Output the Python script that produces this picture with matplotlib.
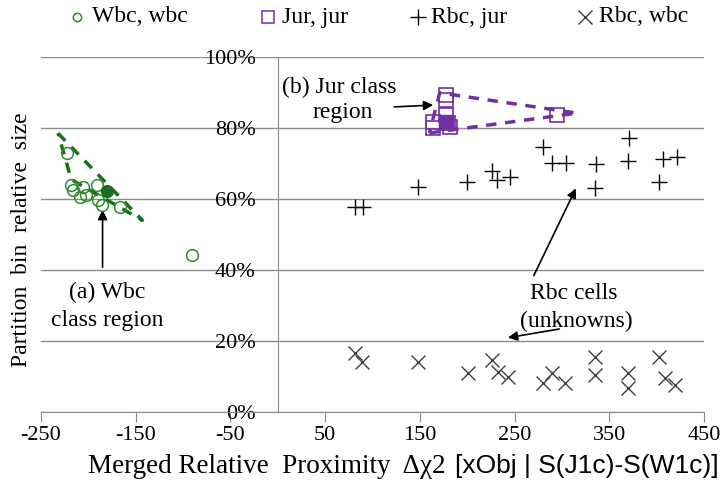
import matplotlib
matplotlib.use('Agg')
import matplotlib.pyplot as plt
from matplotlib.lines import Line2D

plt.rcParams['font.family'] = ['Liberation Serif', 'DejaVu Serif']
plt.rcParams['axes.unicode_minus'] = False

# Wbc, wbc (green circles)
wbc_x = [-223, -218, -216, -206, -202, -191, -190, -186, -209, -167, -91]
wbc_y = [0.729, 0.639, 0.625, 0.634, 0.611, 0.639, 0.597, 0.583, 0.606, 0.577, 0.442]
wbc_fill = (-180, 0.623)

# Jur, jur (purple squares)
jur_x = [178, 178, 164, 178, 180, 182, 164, 295]
jur_y = [0.893, 0.879, 0.817, 0.837, 0.814, 0.803, 0.800, 0.837]
jur_fill = (178, 0.817)

# Rbc, jur (plus)
rj_x = [371, 280, 290, 304, 336, 370, 407, 421, 403, 335, 226, 231, 245, 200, 148, 90, 81]
rj_y = [0.772, 0.746, 0.701, 0.701, 0.699, 0.707, 0.713, 0.718, 0.648, 0.631,
        0.679, 0.654, 0.662, 0.648, 0.634, 0.577, 0.577]

# Rbc, wbc (x)
rw_x = [81, 89, 148, 201, 226, 232, 243, 280, 290, 303, 335, 335, 370, 370, 403, 409, 419]
rw_y = [0.166, 0.141, 0.141, 0.110, 0.146, 0.113, 0.099, 0.082, 0.110, 0.082,
        0.155, 0.104, 0.110, 0.068, 0.155, 0.096, 0.076]

# class region outlines
wbc_reg_x = [-232, -143, -218, -232]
wbc_reg_y = [0.785, 0.54, 0.655, 0.785]
jur_reg_x = [160, 316, 171, 160]
jur_reg_y = [0.786, 0.842, 0.899, 0.786]

x_ticks = [-250, -150, -50, 50, 150, 250, 350, 450]
y_ticks = [0, 0.2, 0.4, 0.6, 0.8, 1.0]
y_labels = ['0%', '20%', '40%', '60%', '80%', '100%']

green = '#2e8b2e'
dgreen = '#1b6e1b'
purple = '#7030a0'
grey = '#8c8c8c'
fs = 17

fig = plt.figure(figsize=(7.25, 4.94), dpi=100)
ax = fig.add_axes([41 / 725, 82 / 494, 663 / 725, 355 / 494])

ax.plot(wbc_reg_x, wbc_reg_y, color=dgreen, lw=2.5, ls=(0, (3, 2.5)), zorder=3)
ax.plot(jur_reg_x, jur_reg_y, color=purple, lw=2.5, ls=(0, (3, 2.5)), zorder=3)

ax.plot(wbc_x, wbc_y, 'o', ms=8.5, mfc='none', mec=green, mew=1.1, zorder=4)
ax.plot(*wbc_fill, 'o', ms=8.5, mfc=dgreen, mec=dgreen, zorder=4)
ax.plot(jur_x, jur_y, 's', ms=9.5, mfc='none', mec=purple, mew=1.2, zorder=4)
ax.plot(*jur_fill, 's', ms=9.5, mfc=purple, mec=purple, zorder=4)
ax.plot(rj_x, rj_y, '+', ms=11, color='black', mew=1.0, zorder=4)
ax.plot(rw_x, rw_y, 'x', ms=10.5, color='#404040', mew=1.0, zorder=4)

ax.set_xlim(-250, 450)
ax.set_ylim(0, 1.0)
ax.set_xticks(x_ticks)
ax.set_yticks(y_ticks)
ax.set_yticklabels(y_labels)
ax.yaxis.grid(True, color=grey, lw=1)
ax.set_axisbelow(True)
for s in ['top', 'right']:
    ax.spines[s].set_visible(False)
ax.spines['left'].set_position(('data', 0))
ax.spines['left'].set_color(grey)
ax.spines['bottom'].set_color(grey)
ax.tick_params(axis='x', direction='out', length=7, color=grey, labelsize=16, pad=3)
ax.tick_params(axis='y', length=0, labelsize=16, pad=16)

# annotations
arr = dict(arrowstyle='-|>', color='black', lw=1.2, mutation_scale=14)
ax.text(4, 0.913, '(b) Jur class', fontsize=fs, va='center', ha='left')
ax.text(68, 0.845, 'region', fontsize=fs, va='center', ha='center')
ax.annotate('', xy=(167, 0.865), xytext=(120, 0.859), arrowprops=arr)

ax.text(-180, 0.338, '(a) Wbc', fontsize=fs, va='center', ha='center')
ax.text(-180, 0.259, 'class region', fontsize=fs, va='center', ha='center')
ax.annotate('', xy=(-185, 0.577), xytext=(-185, 0.40), arrowprops=arr)

ax.text(313, 0.335, 'Rbc cells', fontsize=fs, va='center', ha='center')
ax.text(315, 0.254, '(unknowns)', fontsize=fs, va='center', ha='center')
ax.annotate('', xy=(316, 0.637), xytext=(269, 0.377), arrowprops=arr)
ax.annotate('', xy=(240, 0.208), xytext=(300, 0.235), arrowprops=arr)

# axis labels
fig.text(22 / 725, (494 - 240) / 494, 'Partition  bin  relative  size', rotation=90,
         fontsize=fs, ha='center', va='center')
t1 = fig.text(88 / 725, (494 - 466) / 494, 'Merged Relative  Proximity  \u0394\u03c72 ',
              fontsize=19.5, ha='left', va='center')
fig.canvas.draw()
bb = t1.get_window_extent()
fig.text(bb.x1 / 725 + 0.004, (494 - 466) / 494, '[xObj | S(J1c)-S(W1c)]',
         fontsize=19, ha='left', va='center', family='Liberation Sans')

# legend drawn by hand
leg_labels = ['Wbc, wbc', 'Jur, jur', 'Rbc, jur', 'Rbc, wbc']
leg_mx = [77, 268, 418, 585]
leg_tx = [92, 282, 431, 599]
leg_style = [dict(marker='o', ms=6, mfc='none', mec=green, mew=1.1),
             dict(marker='s', ms=8, mfc='none', mec=purple, mew=1.1),
             dict(marker='+', ms=11, color='black', mew=1.0),
             dict(marker='x', ms=10.5, color='#404040', mew=1.0)]
ly = (494 - 17) / 494
for lab, mx, tx, st in zip(leg_labels, leg_mx, leg_tx, leg_style):
    fig.add_artist(Line2D([mx / 725], [ly], transform=fig.transFigure, ls='none', **st))
    fig.text(tx / 725, ly, lab, fontsize=fs, ha='left', va='center')

fig.savefig('out.png', dpi=100)
